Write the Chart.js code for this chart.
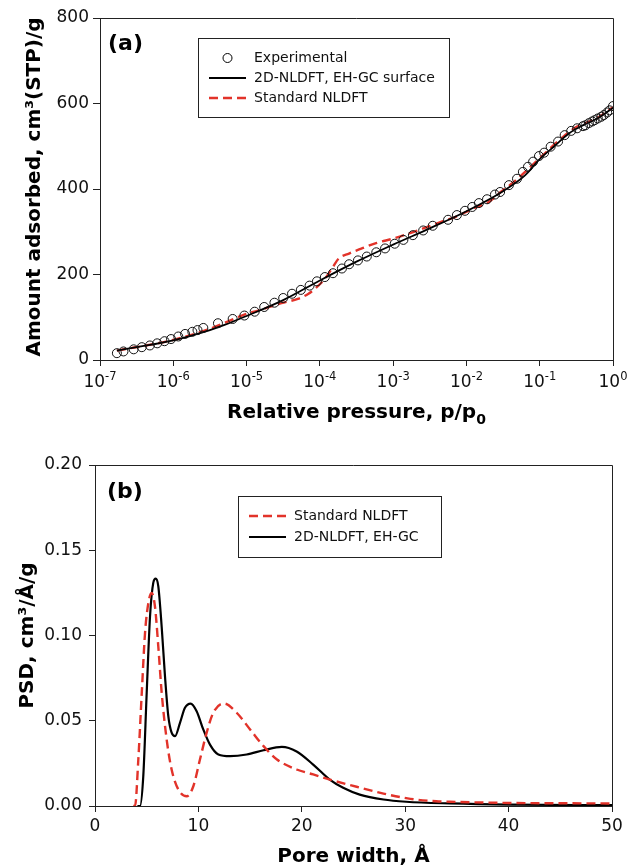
<!DOCTYPE html>
<html>
<head>
<meta charset="utf-8">
<script src="https://cdn.jsdelivr.net/npm/chart.js@4.4.1/dist/chart.umd.min.js"></script>
<style>
  html, body { margin: 0; padding: 0; background: #fff; }
  #panel-a { position: absolute; left: 0; top: 0; }
  #panel-b { position: absolute; left: 0; top: 440px; }
</style>
</head>
<body>
<canvas id="panel-a" width="627" height="440"></canvas>
<canvas id="panel-b" width="627" height="428"></canvas>
<script>
// ---- (a) isotherm: relative pressure vs amount adsorbed ----
const expP = [1.70e-7, 2.09e-7, 2.88e-7, 3.72e-7, 4.79e-7, 6.03e-7, 7.59e-7, 9.33e-7,
  1.17e-6, 1.45e-6, 1.82e-6, 2.14e-6, 2.57e-6, 4.07e-6, 6.46e-6, 9.33e-6,
  1.29e-5, 1.74e-5, 2.40e-5, 3.16e-5, 4.17e-5, 5.50e-5, 7.24e-5, 9.12e-5,
  1.17e-4, 1.51e-4, 2.00e-4, 2.51e-4, 3.31e-4, 4.37e-4, 5.89e-4, 7.76e-4,
  1.05e-3, 1.38e-3, 1.86e-3, 2.57e-3, 3.47e-3, 5.62e-3, 7.41e-3, 9.55e-3,
  1.20e-2, 1.48e-2, 1.91e-2, 2.45e-2, 2.88e-2, 3.80e-2, 4.90e-2, 5.89e-2,
  6.92e-2, 8.13e-2, 9.77e-2, 0.115, 0.141, 0.178, 0.219, 0.269, 0.324,
  0.389, 0.42, 0.468, 0.52, 0.562, 0.62, 0.692, 0.75, 0.832, 0.9, 1.0];
const expV = [16, 20, 25, 30, 34, 39, 44, 49,
  55, 61, 66, 70, 75, 86, 96, 104,
  113, 124, 134, 145, 155, 164, 174, 184,
  194, 203, 214, 224, 233, 242, 252, 261,
  272, 281, 292, 303, 314, 328, 339, 349,
  358, 367, 376, 387, 393, 409, 424, 440,
  452, 464, 477, 485, 499, 511, 526, 536, 542,
  547, 549, 554, 558, 561, 565, 569, 573, 579, 584, 594];

const ehgcP = [1.70e-7, 3.16e-7, 1e-6, 3.16e-6, 5e-6, 1e-5, 3.16e-5, 1e-4, 3.16e-4,
  1e-3, 3.16e-3, 1e-2, 3.16e-2, 6.3e-2, 0.1, 0.158, 0.25, 0.4, 0.63, 1.0];
const ehgcV = [22, 30, 46, 70, 82, 103, 140, 186, 230,
  270, 308, 348, 395, 432, 470, 500, 530, 550, 566, 590];

const stdP = [1.70e-7, 1e-6, 3.16e-6, 1e-5, 1.4e-5, 3e-5, 5e-5, 7e-5, 9e-5, 1.17e-4,
  1.5e-4, 1.8e-4, 2.5e-4, 3.6e-4, 6e-4, 1e-3, 1.66e-3, 4.5e-3, 7.4e-3, 1.23e-2,
  2.04e-2, 2.75e-2, 4.27e-2, 7.1e-2, 0.117, 0.195, 0.324, 0.6, 1.0];
const stdV = [22, 47, 73, 108, 115, 133, 143, 155, 170, 190,
  217, 237, 249, 260, 274, 284, 296, 323, 336, 354,
  370, 389, 414, 448, 483, 518, 546, 565, 591];

const pressureTicks = [1e-7, 1e-6, 1e-5, 1e-4, 1e-3, 1e-2, 1e-1, 1];
const pressureExp = ['-7', '-6', '-5', '-4', '-3', '-2', '-1', '0'];

// ---- (b) pore size distribution ----
const ehgcW = [4.1, 4.35, 4.67, 5.0, 5.32, 5.64, 5.87, 6.12, 6.45, 6.77, 7.09, 7.41, 7.74,
  8.22, 8.7, 9.25, 9.83, 10.47, 11.12, 11.93, 13.06, 14.67, 16.3, 18.07, 19.5, 21.1,
  22.7, 24.0, 25.6, 27.9, 30.1, 34.3, 40, 50];
const ehgcPsd = [0, 0, 0.0175, 0.0664, 0.111, 0.131, 0.1334, 0.129, 0.105, 0.076, 0.0527, 0.043, 0.041,
  0.0488, 0.0576, 0.0601, 0.0556, 0.0449, 0.036, 0.0302, 0.0292, 0.0302, 0.0327, 0.0347, 0.032, 0.0243,
  0.0155, 0.0107, 0.0067, 0.0038, 0.0025, 0.0015, 0.0008, 0.0005];

const stdW = [3.7, 3.87, 4.19, 4.52, 4.84, 5.16, 5.48, 5.8, 6.12, 6.45, 6.93, 7.41, 8.06, 8.87,
  9.51, 10.15, 10.8, 11.44, 12.48, 13.7, 15.0, 16.3, 17.6, 19.5, 21.1, 22.7, 25.3, 27.9,
  30.5, 33.0, 34.3, 40, 50];
const stdPsd = [0, 0, 0.0273, 0.066, 0.1016, 0.119, 0.125, 0.117, 0.0937, 0.0664, 0.039, 0.0214, 0.0097, 0.0057,
  0.0116, 0.0273, 0.043, 0.0547, 0.0601, 0.0547, 0.0449, 0.0351, 0.0273, 0.0214, 0.0185, 0.0155, 0.0113, 0.0073,
  0.0042, 0.0028, 0.0025, 0.0018, 0.0015];

const RED = '#e2332a';
const FONT = '"DejaVu Sans", sans-serif';

const pts = (xs, ys) => xs.map((x, i) => ({ x: x, y: ys[i] }));

// text helpers
function textWithScript(ctx, base, script, cx, y, size, scriptSize, shift, bold) {
  const w = bold ? 'bold ' : '';
  ctx.font = w + size + 'px ' + FONT;
  const w1 = ctx.measureText(base).width;
  ctx.font = w + scriptSize + 'px ' + FONT;
  const w2 = ctx.measureText(script).width;
  const x0 = cx - (w1 + w2) / 2;
  ctx.textAlign = 'left';
  ctx.textBaseline = 'alphabetic';
  ctx.font = w + size + 'px ' + FONT;
  ctx.fillText(base, x0, y);
  ctx.font = w + scriptSize + 'px ' + FONT;
  ctx.fillText(script, x0 + w1, y + shift);
}

function drawLegend(ctx, chart, lg) {
  ctx.save();
  ctx.strokeStyle = '#222';
  ctx.lineWidth = 1;
  ctx.strokeRect(lg.box[0] + 0.5, lg.box[1] + 0.5, lg.box[2], lg.box[3]);
  ctx.font = '14px ' + FONT;
  ctx.textBaseline = 'middle';
  ctx.textAlign = 'left';
  lg.items.forEach((idx, r) => {
    const ds = chart.data.datasets[idx];
    const y = lg.rows[r];
    if (ds.showLine === false) {
      ctx.beginPath();
      ctx.setLineDash([]);
      ctx.lineWidth = 1;
      ctx.strokeStyle = '#000';
      ctx.arc((lg.sym[0] + lg.sym[1]) / 2, y, ds.pointRadius, 0, Math.PI * 2);
      ctx.stroke();
    } else {
      ctx.beginPath();
      ctx.setLineDash(ds.borderDash || []);
      ctx.lineWidth = ds.borderWidth;
      ctx.strokeStyle = ds.borderColor;
      ctx.moveTo(lg.sym[0], y);
      ctx.lineTo(lg.sym[1], y);
      ctx.stroke();
    }
    ctx.setLineDash([]);
    ctx.fillStyle = '#111';
    ctx.fillText(ds.label, lg.textX, y);
  });
  ctx.restore();
}

function frame(ctx, a) {
  ctx.save();
  ctx.strokeStyle = '#222';
  ctx.lineWidth = 1;
  ctx.beginPath();
  ctx.moveTo(a.left, a.top + 0.5);
  ctx.lineTo(a.right + 0.5, a.top + 0.5);
  ctx.lineTo(a.right + 0.5, a.bottom);
  ctx.stroke();
  ctx.restore();
}

const decorA = {
  id: 'decorA',
  afterDraw(chart) {
    const ctx = chart.ctx, a = chart.chartArea, sx = chart.scales.x;
    frame(ctx, a);
    ctx.save();
    ctx.fillStyle = '#111';
    pressureTicks.forEach((v, i) => {
      textWithScript(ctx, '10', pressureExp[i], sx.getPixelForValue(v), 387, 17, 11.5, -7, false);
    });
    ctx.fillStyle = '#000';
    textWithScript(ctx, 'Relative pressure, p/p', '0', (a.left + a.right) / 2, 418, 20, 14, 6, true);
    ctx.save();
    ctx.translate(40, 187);
    ctx.rotate(-Math.PI / 2);
    ctx.font = 'bold 20px ' + FONT;
    ctx.textAlign = 'center';
    ctx.textBaseline = 'alphabetic';
    ctx.fillText('Amount adsorbed, cm\u00B3(STP)/g', 0, 0);
    ctx.restore();
    ctx.font = 'bold 22px ' + FONT;
    ctx.textAlign = 'left';
    ctx.textBaseline = 'middle';
    ctx.fillText('(a)', 108, 44);
    ctx.restore();
    drawLegend(ctx, chart, { box: [198, 38, 251, 79], rows: [58, 78, 98], sym: [209, 246], textX: 254, items: [0, 1, 2] });
  }
};

const decorB = {
  id: 'decorB',
  afterDraw(chart) {
    const ctx = chart.ctx, a = chart.chartArea;
    frame(ctx, a);
    ctx.save();
    ctx.fillStyle = '#000';
    ctx.font = 'bold 20px ' + FONT;
    ctx.textAlign = 'center';
    ctx.textBaseline = 'alphabetic';
    ctx.fillText('Pore width, \u00C5', (a.left + a.right) / 2, 422);
    ctx.save();
    ctx.translate(33, (a.top + a.bottom) / 2);
    ctx.rotate(-Math.PI / 2);
    ctx.fillText('PSD, cm\u00B3/\u00C5/g', 0, 0);
    ctx.restore();
    ctx.font = 'bold 22px ' + FONT;
    ctx.textAlign = 'left';
    ctx.textBaseline = 'middle';
    ctx.fillText('(b)', 107, 52);
    ctx.restore();
    drawLegend(ctx, chart, { box: [238, 56, 203, 61], rows: [76, 97], sym: [249, 286], textX: 294, items: [0, 1] });
  }
};

const axisLine = { color: '#222', width: 1 };
const tickGrid = (len) => ({ display: true, drawOnChartArea: false, drawTicks: true, tickLength: len, color: '#222', lineWidth: 1 });

new Chart(document.getElementById('panel-a'), {
  type: 'line',
  data: {
    datasets: [
      { label: 'Experimental', data: pts(expP, expV), showLine: false, pointRadius: 4.5,
        pointBorderWidth: 1, pointBorderColor: '#111', pointBackgroundColor: 'rgba(0,0,0,0)' },
      { label: '2D-NLDFT, EH-GC surface', data: pts(ehgcP, ehgcV), borderColor: '#000', borderWidth: 1.8,
        pointRadius: 0, cubicInterpolationMode: 'monotone', fill: false },
      { label: 'Standard NLDFT', data: pts(stdP, stdV), borderColor: RED, borderWidth: 2.4, borderDash: [9, 5],
        pointRadius: 0, cubicInterpolationMode: 'monotone', fill: false }
    ]
  },
  options: {
    responsive: false,
    animation: false,
    events: [],
    layout: { padding: { top: 18, right: 14, left: 0, bottom: 0 } },
    plugins: { legend: { display: false }, tooltip: { enabled: false } },
    scales: {
      x: {
        type: 'logarithmic', min: 1e-7, max: 1,
        afterBuildTicks: s => { s.ticks = pressureTicks.map(v => ({ value: v })); },
        afterFit: s => { s.height = 80; },
        ticks: { callback: () => '', autoSkip: false },
        grid: tickGrid(6), border: axisLine
      },
      y: {
        min: 0, max: 800,
        afterFit: s => { s.width = 100; },
        ticks: { stepSize: 200, color: '#111', padding: 4, font: { family: FONT, size: 17 } },
        grid: tickGrid(7), border: axisLine
      }
    }
  },
  plugins: [decorA]
});

new Chart(document.getElementById('panel-b'), {
  type: 'line',
  data: {
    datasets: [
      { label: 'Standard NLDFT', data: pts(stdW, stdPsd), borderColor: RED, borderWidth: 2.4, borderDash: [9, 5],
        pointRadius: 0, cubicInterpolationMode: 'monotone', fill: false },
      { label: '2D-NLDFT, EH-GC', data: pts(ehgcW, ehgcPsd), borderColor: '#000', borderWidth: 2.2,
        pointRadius: 0, cubicInterpolationMode: 'monotone', fill: false }
    ]
  },
  options: {
    responsive: false,
    animation: false,
    events: [],
    layout: { padding: { top: 25, right: 15, left: 0, bottom: 0 } },
    plugins: { legend: { display: false }, tooltip: { enabled: false } },
    scales: {
      x: {
        type: 'linear', min: 0, max: 50,
        afterFit: s => { s.height = 62; },
        ticks: { stepSize: 10, color: '#111', padding: 4, font: { family: FONT, size: 17 } },
        grid: tickGrid(6), border: axisLine
      },
      y: {
        min: 0, max: 0.2,
        afterFit: s => { s.width = 95; },
        ticks: { stepSize: 0.05, color: '#111', padding: 7, font: { family: FONT, size: 17 },
          callback: v => v.toFixed(2) },
        grid: tickGrid(6), border: axisLine
      }
    }
  },
  plugins: [decorB]
});
</script>
</body>
</html>
